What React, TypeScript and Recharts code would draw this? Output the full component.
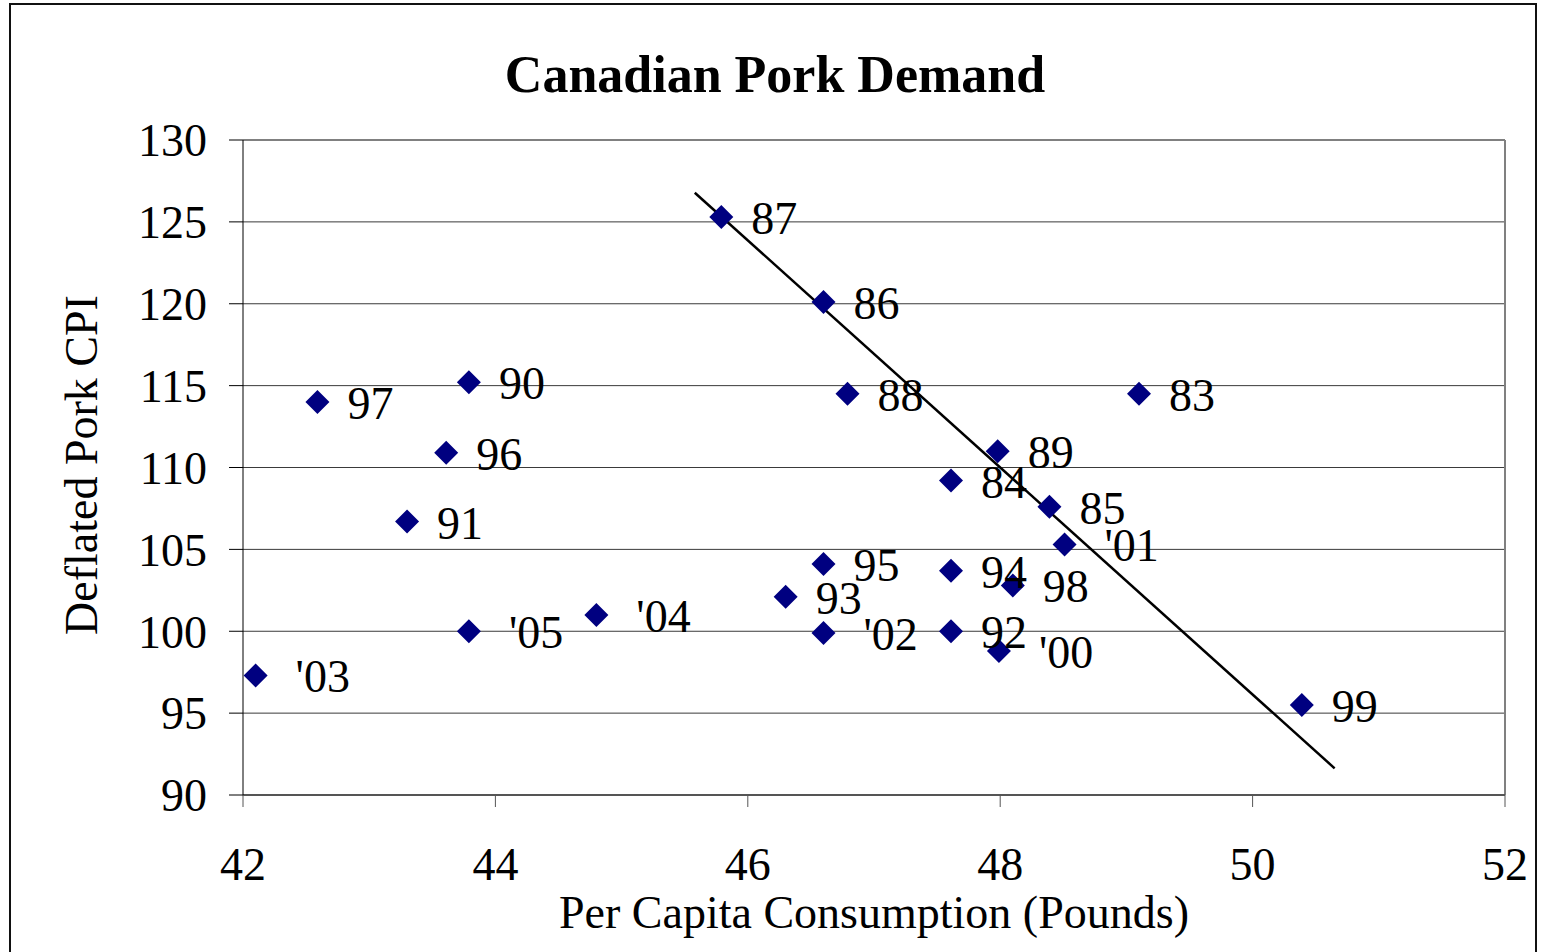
import { ScatterChart, Scatter, XAxis, YAxis, CartesianGrid, ReferenceLine, Customized } from 'recharts';

const years = ['83', '84', '85', '86', '87', '88', '89', '90', '91', '92', '93', '94', '95', '96', '97', '98', '99', "'00", "'01", "'02", "'03", "'04", "'05"];
const consumption = [49.1, 47.61, 48.39, 46.6, 45.79, 46.79, 47.98, 43.79, 43.3, 47.61, 46.3, 47.61, 46.6, 43.61, 42.59, 48.1, 50.39, 47.99, 48.51, 46.6, 42.1, 44.8, 43.79];
const porkCpi = [114.5, 109.2, 107.6, 120.1, 125.3, 114.5, 111.0, 115.2, 106.7, 100.0, 102.1, 103.7, 104.1, 110.9, 114.0, 102.8, 95.5, 98.8, 105.3, 99.9, 97.3, 101.0, 100.0];

// trend line end points as drawn in the original
const trendX = [45.58, 50.65];
const trendY = [126.78, 91.63];

const xTicks = [42, 44, 46, 48, 50, 52];
const yTicks = [90, 95, 100, 105, 110, 115, 120, 125, 130];

const FONT = '"Liberation Serif", "Times New Roman", serif';

const points = years.map((label, i) => ({ x: consumption[i], y: porkCpi[i], label }));
const trend = trendX.map((x, i) => ({ x, y: trendY[i] }));

const Diamond = (p: any) => {
  const { cx, cy } = p;
  const r = 12;
  return <polygon points={`${cx},${cy - r} ${cx + r},${cy} ${cx},${cy + r} ${cx - r},${cy}`} fill="#000080" />;
};

const YearLabel = (p: any) => {
  const label: string = p.payload.label;
  const dx = label.startsWith("'") ? 40 : 30;
  return (
    <text x={p.cx + dx} y={p.cy + 17} fontSize={46} fontFamily={FONT} fill="#000">
      {label}
    </text>
  );
};

const Titles = () => (
  <g fontFamily={FONT} fill="#000">
    <text x={775} y={92} textAnchor="middle" fontSize={52} fontWeight="bold">
      Canadian Pork Demand
    </text>
    <text x={874} y={928} textAnchor="middle" fontSize={46}>
      Per Capita Consumption (Pounds)
    </text>
    <text x={97} y={465} textAnchor="middle" fontSize={46} transform="rotate(-90 97 465)">
      Deflated Pork CPI
    </text>
  </g>
);

export default function App() {
  return (
    <div style={{ position: 'relative', width: 1545, height: 952, overflow: 'hidden', background: '#fff' }}>
      <style>{'body{margin:0}'}</style>
      <div
        style={{
          position: 'absolute',
          left: 9,
          top: 3,
          width: 1524,
          height: 980,
          border: '2px solid #111',
        }}
      />
      <div style={{ position: 'absolute', left: 0, top: 0 }}>
        <ScatterChart width={1545} height={952} margin={{ top: 140, right: 40, bottom: 0, left: 0 }}>
          <CartesianGrid vertical={false} stroke="#3a3a3a" strokeWidth={1} />
          <XAxis
            type="number"
            dataKey="x"
            domain={[42, 52]}
            ticks={xTicks}
            height={157}
            tickSize={12}
            tickMargin={40}
            axisLine={{ stroke: '#555', strokeWidth: 2 }}
            tickLine={{ stroke: '#555', strokeWidth: 1 }}
            tick={{ fill: '#000', fontSize: 46, fontFamily: FONT }}
            allowDataOverflow
          />
          <YAxis
            type="number"
            dataKey="y"
            domain={[90, 130]}
            ticks={yTicks}
            width={243}
            tickSize={14}
            tickMargin={22}
            axisLine={{ stroke: '#000', strokeWidth: 1 }}
            tickLine={{ stroke: '#000', strokeWidth: 1 }}
            tick={{ fill: '#000', fontSize: 46, fontFamily: FONT }}
            allowDataOverflow
          />
          <ReferenceLine y={130} stroke="#808080" strokeWidth={2} />
          <ReferenceLine x={52} stroke="#808080" strokeWidth={2} />
          <Scatter
            data={trend}
            line={{ stroke: '#000', strokeWidth: 2.5 }}
            shape={() => <g />}
            isAnimationActive={false}
            legendType="none"
          />
          <Scatter data={points} shape={Diamond} isAnimationActive={false} legendType="none" />
          <Scatter data={points} shape={YearLabel} isAnimationActive={false} legendType="none" />
          <Customized component={Titles} />
        </ScatterChart>
      </div>
    </div>
  );
}
